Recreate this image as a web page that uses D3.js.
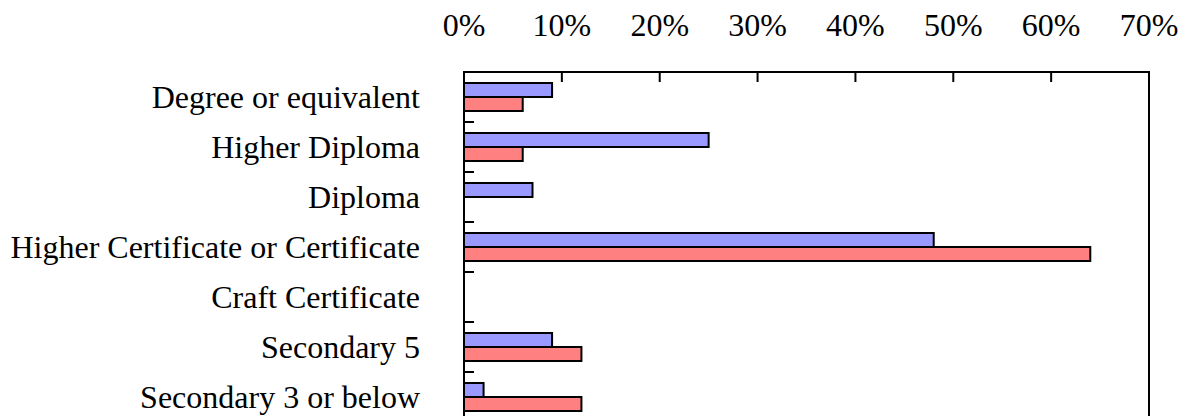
<!DOCTYPE html>
<html>
<head>
<meta charset="utf-8">
<script src="https://cdn.jsdelivr.net/npm/d3@7"></script>
<style>
  html, body { margin: 0; padding: 0; background: #fff; }
  svg text { font-family: "Liberation Serif", "Times New Roman", serif; font-size: 32px; fill: #000; }
</style>
</head>
<body>
<svg id="chart" width="1185" height="416"></svg>
<script>
// Education levels, top to bottom
const categories = [
  "Degree or equivalent",
  "Higher Diploma",
  "Diploma",
  "Higher Certificate or Certificate",
  "Craft Certificate",
  "Secondary 5",
  "Secondary 3 or below"
];
const seriesNames = ["blue", "red"];
// Percentages per education level
const blueValues = [9, 25, 7, 48, 0, 9, 2];
const redValues  = [6, 6, 0, 64, 0, 12, 12];
const tickValues = [0, 10, 20, 30, 40, 50, 60, 70];

const colors = { blue: "#9999ff", red: "#ff8080" };

const svg = d3.select("#chart");
const plotLeft = 464, plotRight = 1149, plotTop = 72, bandH = 50;
const plotBottom = plotTop + bandH * categories.length;

const x = d3.scaleLinear().domain([0, 70]).range([plotLeft, plotRight]);
const y = d3.scaleBand().domain(categories).range([plotTop, plotBottom]).padding(0);
const inner = d3.scaleBand().domain(seriesNames).range([0, y.bandwidth()])
  .paddingInner(0).paddingOuter(0.786);

const rows = categories.map((c, i) => ({ cat: c, blue: blueValues[i], red: redValues[i] }));

// Bars
const g = svg.append("g");
rows.forEach(r => {
  seriesNames.forEach(s => {
    if (r[s] <= 0) return;
    g.append("rect")
      .attr("x", x(0))
      .attr("y", y(r.cat) + inner(s))
      .attr("width", x(r[s]) - x(0))
      .attr("height", inner.bandwidth())
      .attr("fill", colors[s])
      .attr("stroke", "#000")
      .attr("stroke-width", 2);
  });
});

// Frame
svg.append("rect")
  .attr("x", plotLeft).attr("y", plotTop)
  .attr("width", plotRight - plotLeft).attr("height", plotBottom - plotTop)
  .attr("fill", "none").attr("stroke", "#000").attr("stroke-width", 2);

// Top axis: inward ticks and labels above
const topAxis = svg.append("g");
tickValues.forEach(v => {
  if (v > 0 && v < 70) {
    topAxis.append("line")
      .attr("x1", x(v)).attr("x2", x(v))
      .attr("y1", plotTop).attr("y2", plotTop + 10)
      .attr("stroke", "#000").attr("stroke-width", 2);
  }
  topAxis.append("text")
    .attr("x", x(v)).attr("y", 36)
    .attr("text-anchor", "middle")
    .text(v + "%");
});

// Left axis: inward ticks between categories and labels
const leftAxis = svg.append("g");
categories.forEach((c, i) => {
  if (i > 0) {
    leftAxis.append("line")
      .attr("x1", plotLeft).attr("x2", plotLeft + 10)
      .attr("y1", y(c)).attr("y2", y(c))
      .attr("stroke", "#000").attr("stroke-width", 2);
  }
  leftAxis.append("text")
    .attr("x", 420)
    .attr("y", y(c) + y.bandwidth() / 2 + 10.5)
    .attr("text-anchor", "end")
    .text(c);
});
</script>
</body>
</html>
